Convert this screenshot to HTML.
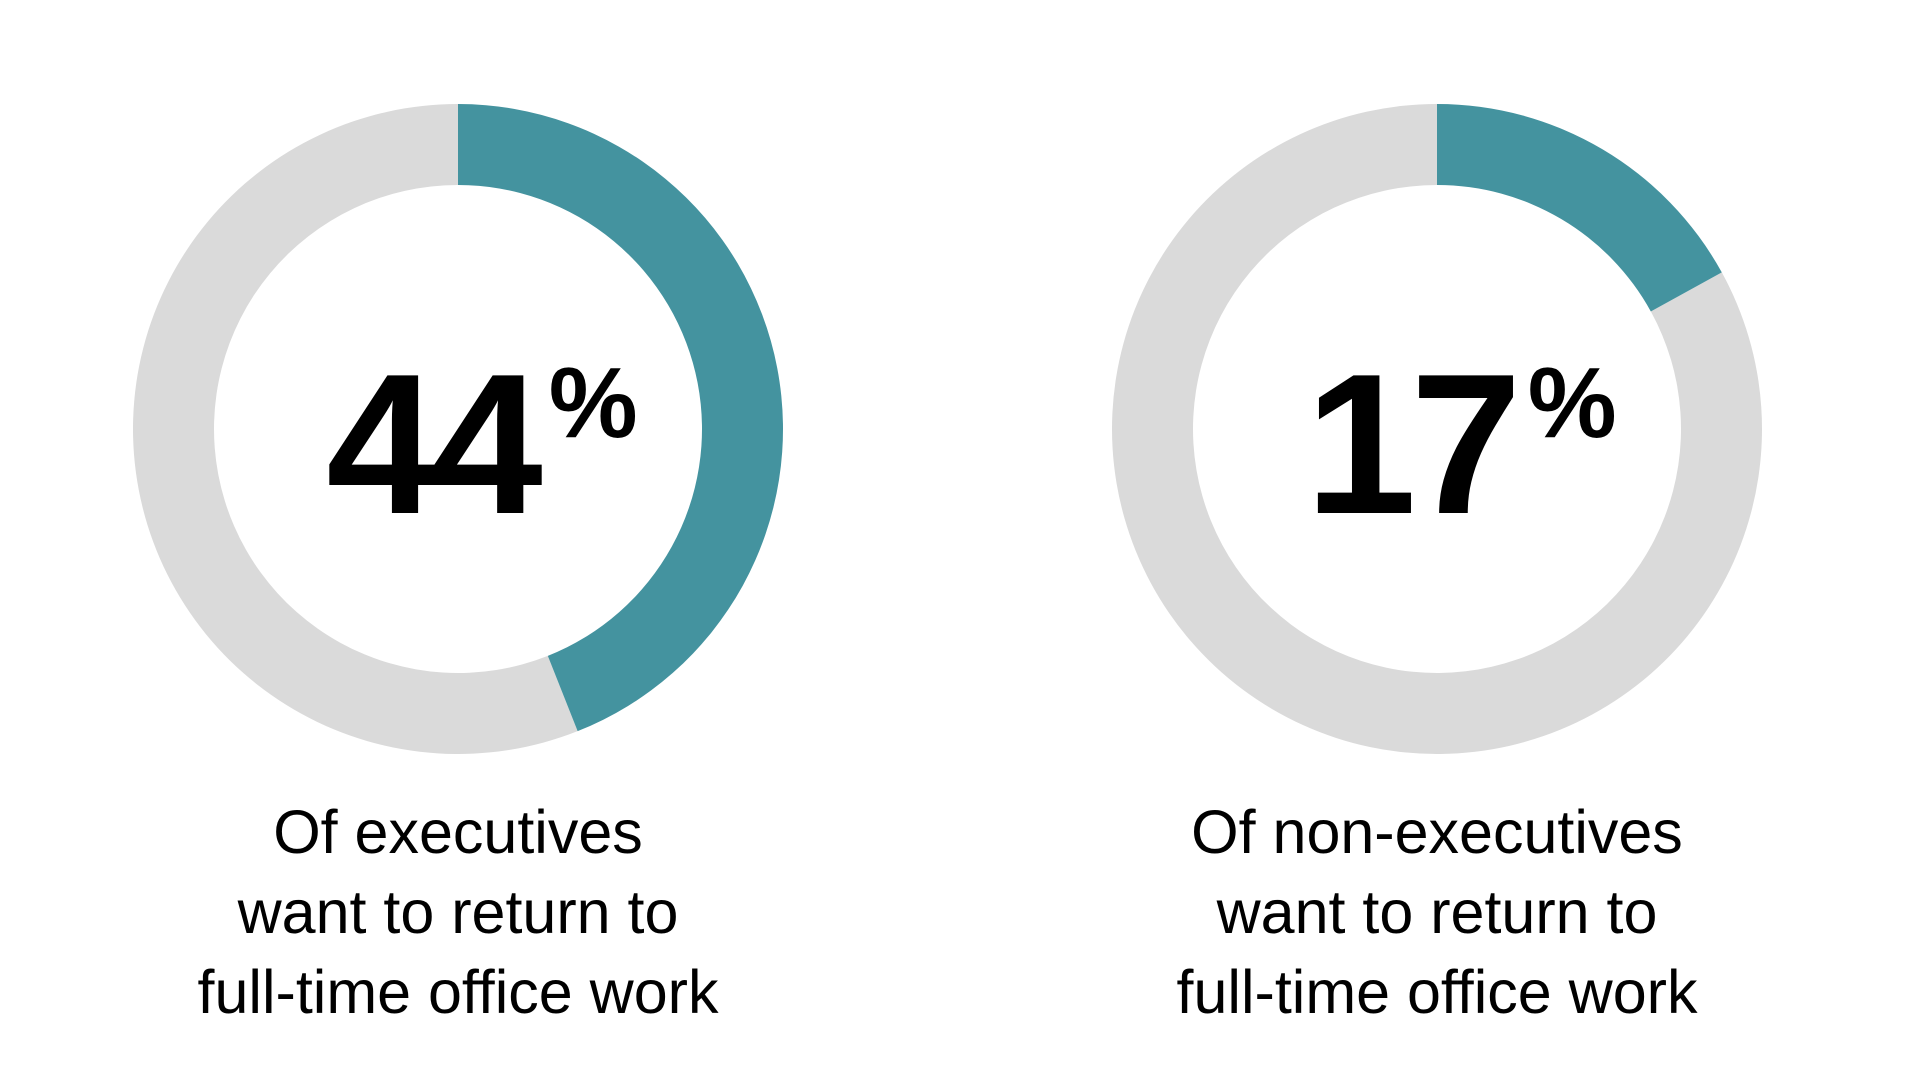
<!DOCTYPE html>
<html><head><meta charset="utf-8"><style>
html,body{margin:0;padding:0;background:#fff;}
svg{display:block;font-family:"Liberation Sans",Arial,sans-serif;}
</style></head><body>
<svg id="chart" width="1920" height="1083" viewBox="0 0 1920 1083"></svg>
<script>
const categories = ["Of executives", "Of non-executives"];
const values = [44, 17];
const labelLines = [
  ["Of executives", "want to return to", "full-time office work"],
  ["Of non-executives", "want to return to", "full-time office work"]
];
const NS = "http://www.w3.org/2000/svg";
const svg = document.getElementById("chart");
const centersX = [458, 1437];
const cy = 429, R = 325, r = 244;
function pt(cx, rad, frac){ const a = frac*2*Math.PI; return [cx + rad*Math.sin(a), cy - rad*Math.cos(a)]; }
function arcPath(cx, f0, f1){
  const large = (f1 - f0) > 0.5 ? 1 : 0;
  const [x0,y0]=pt(cx,R,f0),[x1,y1]=pt(cx,R,f1),[x2,y2]=pt(cx,r,f1),[x3,y3]=pt(cx,r,f0);
  return `M${x0},${y0} A${R},${R} 0 ${large} 1 ${x1},${y1} L${x2},${y2} A${r},${r} 0 ${large} 0 ${x3},${y3} Z`;
}
values.forEach((v, i) => {
  const cx = centersX[i];
  const g = document.createElementNS(NS, "g");
  
  
  const bg = document.createElementNS(NS, "path");
  
  
  bg.setAttribute("d", arcPath(cx, v/100, 0.99999));
  bg.setAttribute("fill", "#dadada");
  g.appendChild(bg);
  const fg = document.createElementNS(NS, "path");
  
  
  fg.setAttribute("d", arcPath(cx, 0, v/100));
  fg.setAttribute("fill", "#44939f");
  g.appendChild(fg);
  const t = document.createElementNS(NS, "text");
  
  
  t.setAttribute("x", cx + 24); t.setAttribute("y", 513);
  t.setAttribute("text-anchor", "middle");
  t.setAttribute("font-weight", "bold");
  t.setAttribute("font-size", "200");
  t.setAttribute("fill", "#000");
  t.setAttribute("letter-spacing", "-6");
  t.textContent = v;
  const s = document.createElementNS(NS, "tspan");
  s.setAttribute("font-size", "100");
  s.setAttribute("dy", "-76");
  s.setAttribute("dx", "12");
  s.setAttribute("letter-spacing", "0");
  s.textContent = "%";
  t.appendChild(s);
  g.appendChild(t);
  labelLines[i].forEach((line, j) => {
    const l = document.createElementNS(NS, "text");
    
    
    l.setAttribute("x", cx); l.setAttribute("y", 853 + j*80);
    l.setAttribute("text-anchor", "middle");
    l.setAttribute("font-size", "61");
    l.setAttribute("fill", "#000");
    l.textContent = line;
    g.appendChild(l);
  });
  svg.appendChild(g);
});
</script>
</body></html>
